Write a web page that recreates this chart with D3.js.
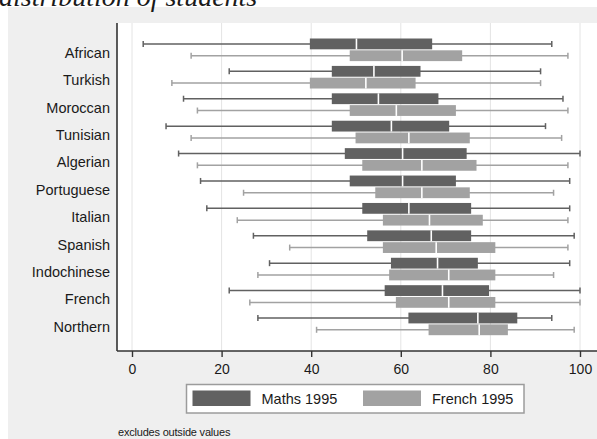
<!DOCTYPE html>
<html>
<head>
<meta charset="utf-8">
<script src="https://cdn.jsdelivr.net/npm/d3@7"></script>
<style>
body { margin: 0; background: #fff; }
svg { display: block; }
text { font-family: "Liberation Sans", Arial, sans-serif; fill: #1a1a1a; }
</style>
</head>
<body>
<svg class="chart"></svg>
<script>

var groups = ["African", "Turkish", "Moroccan", "Tunisian", "Algerian", "Portuguese",
              "Italian", "Spanish", "Indochinese", "French", "Northern"];

// Maths 1995: whisker low, lower quartile, median, upper quartile, whisker high
var mathsLow  = [2.5, 21.7, 11.5,  7.6, 10.4, 15.3, 16.7, 27.1, 30.7, 21.7, 28.1];
var mathsQ1   = [39.7, 44.6, 44.6, 44.6, 47.5, 48.6, 51.4, 52.5, 57.8, 56.4, 61.7];
var mathsMed  = [50.1, 54.0, 55.0, 57.9, 60.4, 60.4, 61.8, 66.8, 68.2, 69.3, 77.2];
var mathsQ3   = [67.0, 64.4, 68.4, 70.8, 74.7, 72.3, 75.7, 75.7, 77.2, 79.7, 86.0];
var mathsHigh = [93.7, 91.2, 96.2, 92.3, 100, 97.7, 97.7, 98.7, 97.7, 100, 93.7];

// French 1995
var frenchLow  = [13.2, 8.9, 14.6, 13.2, 14.6, 24.9, 23.5, 35.2, 28.1, 26.3, 41.2];
var frenchQ1   = [48.6, 39.7, 48.6, 49.9, 51.4, 54.3, 56.0, 56.0, 57.4, 58.9, 66.2];
var frenchMed  = [60.3, 52.2, 59.0, 61.8, 64.7, 64.7, 66.4, 67.9, 70.7, 70.7, 77.5];
var frenchQ3   = [73.7, 63.3, 72.3, 75.4, 76.9, 75.4, 78.3, 81.1, 81.1, 81.1, 83.9];
var frenchHigh = [97.3, 91.2, 97.3, 95.9, 97.3, 94.1, 97.3, 97.3, 94.1, 100, 98.7];

var xTicks = [0, 20, 40, 60, 80, 100];
var seriesNames = ["Maths 1995", "French 1995"];
var seriesColors = ["#616161", "#a2a2a2"];


var width = 597, height = 439;
var plot = {left: 117, top: 23, right: 600, bottom: 351};

var series = [
    {low: mathsLow, q1: mathsQ1, med: mathsMed, q3: mathsQ3, high: mathsHigh, off: -11.2},
    {low: frenchLow, q1: frenchQ1, med: frenchMed, q3: frenchQ3, high: frenchHigh, off: 0.6}
];
var boxH = 10.8;

var x = d3.scaleLinear()
    .domain([0, 100])
    .range([132, 580]);

var y = d3.scaleBand()
    .domain(groups)
    .range([36, 337.5]);

var chart = d3.select('.chart')
    .attr('width', width)
    .attr('height', height);

// grey outer region
chart.append('rect')
    .attr('x', 8).attr('y', 7)
    .attr('width', width).attr('height', height)
    .attr('fill', '#efefef');

// title, its top is cut off in the original
chart.append('text')
    .attr('x', -1)
    .attr('y', 6)
    .style('font-family', '"Liberation Serif", "Times New Roman", serif')
    .style('font-style', 'italic')
    .style('font-size', '28px')
    .text('distribution of students');

// plot region
chart.append('rect')
    .attr('x', plot.left).attr('y', plot.top)
    .attr('width', plot.right - plot.left).attr('height', plot.bottom - plot.top)
    .attr('fill', '#fff');

// grid
chart.append('g').selectAll('line')
    .data(xTicks)
    .enter().append('line')
    .attr('x1', function(d) { return x(d); })
    .attr('x2', function(d) { return x(d); })
    .attr('y1', plot.top)
    .attr('y2', plot.bottom)
    .attr('stroke', '#e4e4e4')
    .attr('stroke-width', 1);

// boxes
series.forEach(function(s, si) {
    var col = seriesColors[si];
    var g = chart.append('g');
    var cy = function(i) { return y(groups[i]) + y.bandwidth() / 2 + s.off; };

    var rows = g.selectAll('g')
        .data(groups)
        .enter().append('g');

    rows.append('line')
        .attr('x1', function(d, i) { return x(s.low[i]); })
        .attr('x2', function(d, i) { return x(s.high[i]); })
        .attr('y1', function(d, i) { return cy(i) + boxH / 2; })
        .attr('y2', function(d, i) { return cy(i) + boxH / 2; })
        .attr('stroke', col)
        .attr('stroke-width', 1.5);

    // whisker caps
    ['low', 'high'].forEach(function(k) {
        rows.append('line')
            .attr('x1', function(d, i) { return x(s[k][i]); })
            .attr('x2', function(d, i) { return x(s[k][i]); })
            .attr('y1', function(d, i) { return cy(i) + boxH / 2 - 3; })
            .attr('y2', function(d, i) { return cy(i) + boxH / 2 + 3; })
            .attr('stroke', col)
            .attr('stroke-width', 1.5);
    });

    rows.append('rect')
        .attr('x', function(d, i) { return x(s.q1[i]); })
        .attr('y', function(d, i) { return cy(i); })
        .attr('width', function(d, i) { return x(s.q3[i]) - x(s.q1[i]); })
        .attr('height', boxH)
        .attr('fill', col);

    rows.append('line')
        .attr('x1', function(d, i) { return x(s.med[i]); })
        .attr('x2', function(d, i) { return x(s.med[i]); })
        .attr('y1', function(d, i) { return cy(i); })
        .attr('y2', function(d, i) { return cy(i) + boxH; })
        .attr('stroke', '#fff')
        .attr('stroke-width', 1.6);
});

// axes
var xAxis = d3.axisBottom(x)
    .tickValues(xTicks)
    .tickSize(6)
    .tickSizeOuter(0)
    .tickPadding(7);

var xg = chart.append('g')
    .attr('transform', 'translate(0,' + plot.bottom + ')')
    .call(xAxis);
xg.select('.domain').remove();
xg.selectAll('line').attr('stroke', '#333').attr('stroke-width', 1.4);
xg.selectAll('text').style('font-size', '14px').style('font-family', '"Liberation Sans", Arial, sans-serif').attr('fill', '#1a1a1a');

chart.append('line')
    .attr('x1', plot.left).attr('x2', plot.right)
    .attr('y1', plot.bottom).attr('y2', plot.bottom)
    .attr('stroke', '#333').attr('stroke-width', 1.6);

var yAxis = d3.axisLeft(y)
    .tickSize(0)
    .tickPadding(7);

var yg = chart.append('g')
    .attr('transform', 'translate(' + plot.left + ',0)')
    .call(yAxis);
yg.select('.domain').remove();
yg.selectAll('text').attr('dy', '0.55em').style('font-size', '14.5px').style('font-family', '"Liberation Sans", Arial, sans-serif').attr('fill', '#1a1a1a');

chart.append('line')
    .attr('x1', plot.left).attr('x2', plot.left)
    .attr('y1', plot.top).attr('y2', plot.bottom)
    .attr('stroke', '#333').attr('stroke-width', 1.6);

// legend
var legend = chart.append('g');
legend.append('rect')
    .attr('x', 186.5).attr('y', 384.5)
    .attr('width', 337.5).attr('height', 28.5)
    .attr('fill', '#fff')
    .attr('stroke', '#9c9c9c')
    .attr('stroke-width', 1.5);

var lx = [192.5, 363];
legend.selectAll('.sw')
    .data(seriesNames)
    .enter().append('rect')
    .attr('class', 'sw')
    .attr('x', function(d, i) { return lx[i]; })
    .attr('y', 390.5)
    .attr('width', 58)
    .attr('height', 15.5)
    .attr('fill', function(d, i) { return seriesColors[i]; });

legend.selectAll('.lt')
    .data(seriesNames)
    .enter().append('text')
    .attr('class', 'lt')
    .attr('x', function(d, i) { return lx[i] + 69; })
    .attr('y', 404)
    .style('font-size', '14.5px')
    .text(function(d) { return d; });

chart.append('text')
    .attr('x', 118)
    .attr('y', 436)
    .style('font-size', '11px')
    .style('letter-spacing', '-0.2px')
    .text('excludes outside values');

</script>
</body>
</html>
